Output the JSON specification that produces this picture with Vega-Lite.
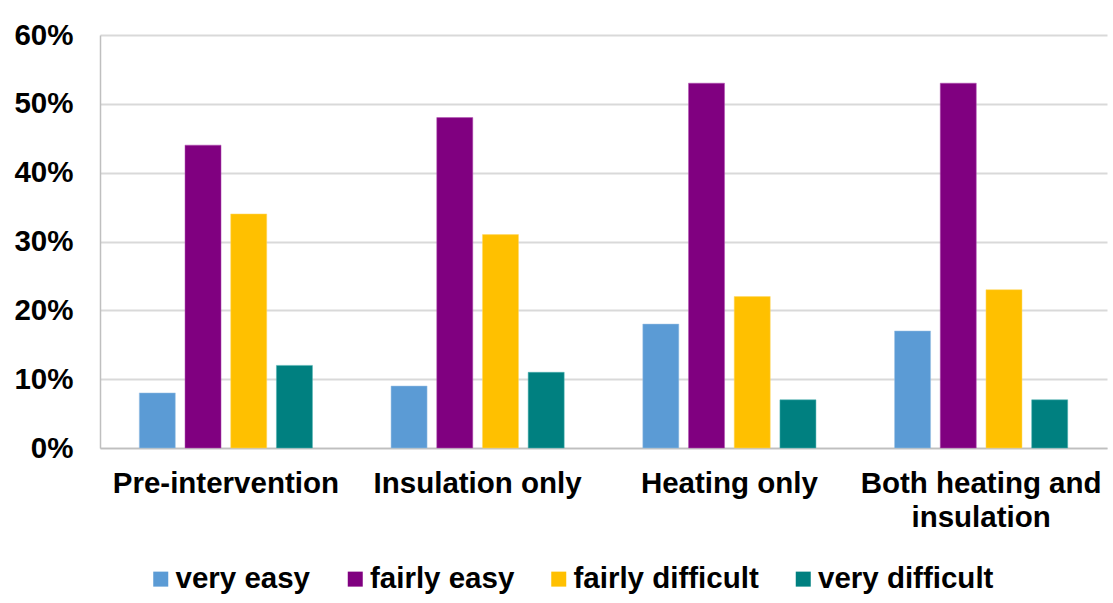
{
  "$schema": "https://vega.github.io/schema/vega-lite/v6.json",
  "autosize": {"type": "none"},
  "padding": {"left": 100, "top": 35, "right": 6, "bottom": 155},
  "width": 1007,
  "height": 413,
  "background": "white",
  "config": {
    "font": "Liberation Sans",
    "view": {"stroke": null}
  },
  "data": {
    "values": [
      {"group": "Pre-intervention", "response": "very easy", "share": 0.08},
      {"group": "Pre-intervention", "response": "fairly easy", "share": 0.44},
      {"group": "Pre-intervention", "response": "fairly difficult", "share": 0.34},
      {"group": "Pre-intervention", "response": "very difficult", "share": 0.12},
      {"group": "Insulation only", "response": "very easy", "share": 0.09},
      {"group": "Insulation only", "response": "fairly easy", "share": 0.48},
      {"group": "Insulation only", "response": "fairly difficult", "share": 0.31},
      {"group": "Insulation only", "response": "very difficult", "share": 0.11},
      {"group": "Heating only", "response": "very easy", "share": 0.18},
      {"group": "Heating only", "response": "fairly easy", "share": 0.53},
      {"group": "Heating only", "response": "fairly difficult", "share": 0.22},
      {"group": "Heating only", "response": "very difficult", "share": 0.07},
      {"group": "Both heating and insulation", "response": "very easy", "share": 0.17},
      {"group": "Both heating and insulation", "response": "fairly easy", "share": 0.53},
      {"group": "Both heating and insulation", "response": "fairly difficult", "share": 0.23},
      {"group": "Both heating and insulation", "response": "very difficult", "share": 0.07}
    ]
  },
  "mark": {"type": "bar", "strokeWidth": 1, "strokeOpacity": 0.5},
  "encoding": {
    "x": {
      "field": "group",
      "type": "nominal",
      "sort": ["Pre-intervention", "Insulation only", "Heating only", "Both heating and insulation"],
      "scale": {"paddingInner": 0, "paddingOuter": 0},
      "axis": {
        "title": null,
        "labelAngle": 0,
        "labelFont": "Liberation Sans",
        "labelFontWeight": "bold",
        "labelFontSize": 29.5,
        "labelColor": "#000000",
        "labelPadding": 21,
        "labelLineHeight": 34,
        "labelBaseline": "top",
        "labelLimit": 0,
        "labelOverlap": false,
        "ticks": false,
        "domainColor": "#bfbfbf",
        "domainWidth": 1.5,
        "grid": false,
        "labelExpr": "datum.label == 'Both heating and insulation' ? ['Both heating and', 'insulation'] : datum.label"
      }
    },
    "xOffset": {
      "field": "response",
      "type": "nominal",
      "sort": ["very easy", "fairly easy", "fairly difficult", "very difficult"],
      "scale": {"paddingInner": 0.212, "paddingOuter": 0.86}
    },
    "y": {
      "field": "share",
      "type": "quantitative",
      "scale": {"domain": [0, 0.6], "nice": false},
      "axis": {
        "title": null,
        "format": ".0%",
        "values": [0, 0.1, 0.2, 0.3, 0.4, 0.5, 0.6],
        "labelFont": "Liberation Sans",
        "labelFontWeight": "bold",
        "labelFontSize": 29.5,
        "labelColor": "#000000",
        "labelPadding": 27,
        "ticks": false,
        "domain": true,
        "domainColor": "#bfbfbf",
        "domainWidth": 1.5,
        "gridColor": "#d9d9d9",
        "gridWidth": 2
      }
    },
    "color": {
      "field": "response",
      "type": "nominal",
      "sort": ["very easy", "fairly easy", "fairly difficult", "very difficult"],
      "scale": {
        "domain": ["very easy", "fairly easy", "fairly difficult", "very difficult"],
        "range": ["#5b9bd5", "#800080", "#ffc000", "#008080"]
      },
      "legend": {
        "title": null,
        "orient": "none",
        "direction": "horizontal",
        "legendX": 46,
        "legendY": 529,
        "symbolType": "square",
        "symbolSize": 225,
        "symbolStrokeWidth": 0,
        "labelFont": "Liberation Sans",
        "labelFontWeight": "bold",
        "labelFontSize": 29.5,
        "labelColor": "#000000",
        "labelOffset": 0,
        "columnPadding": 29.5,
        "labelLimit": 400
      }
    },
    "stroke": {
      "field": "response",
      "type": "nominal",
      "scale": {
        "domain": ["very easy", "fairly easy", "fairly difficult", "very difficult"],
        "range": ["#9dc3e6", "#b44fb4", "#ffd966", "#4db3b3"]
      },
      "legend": null
    }
  }
}
